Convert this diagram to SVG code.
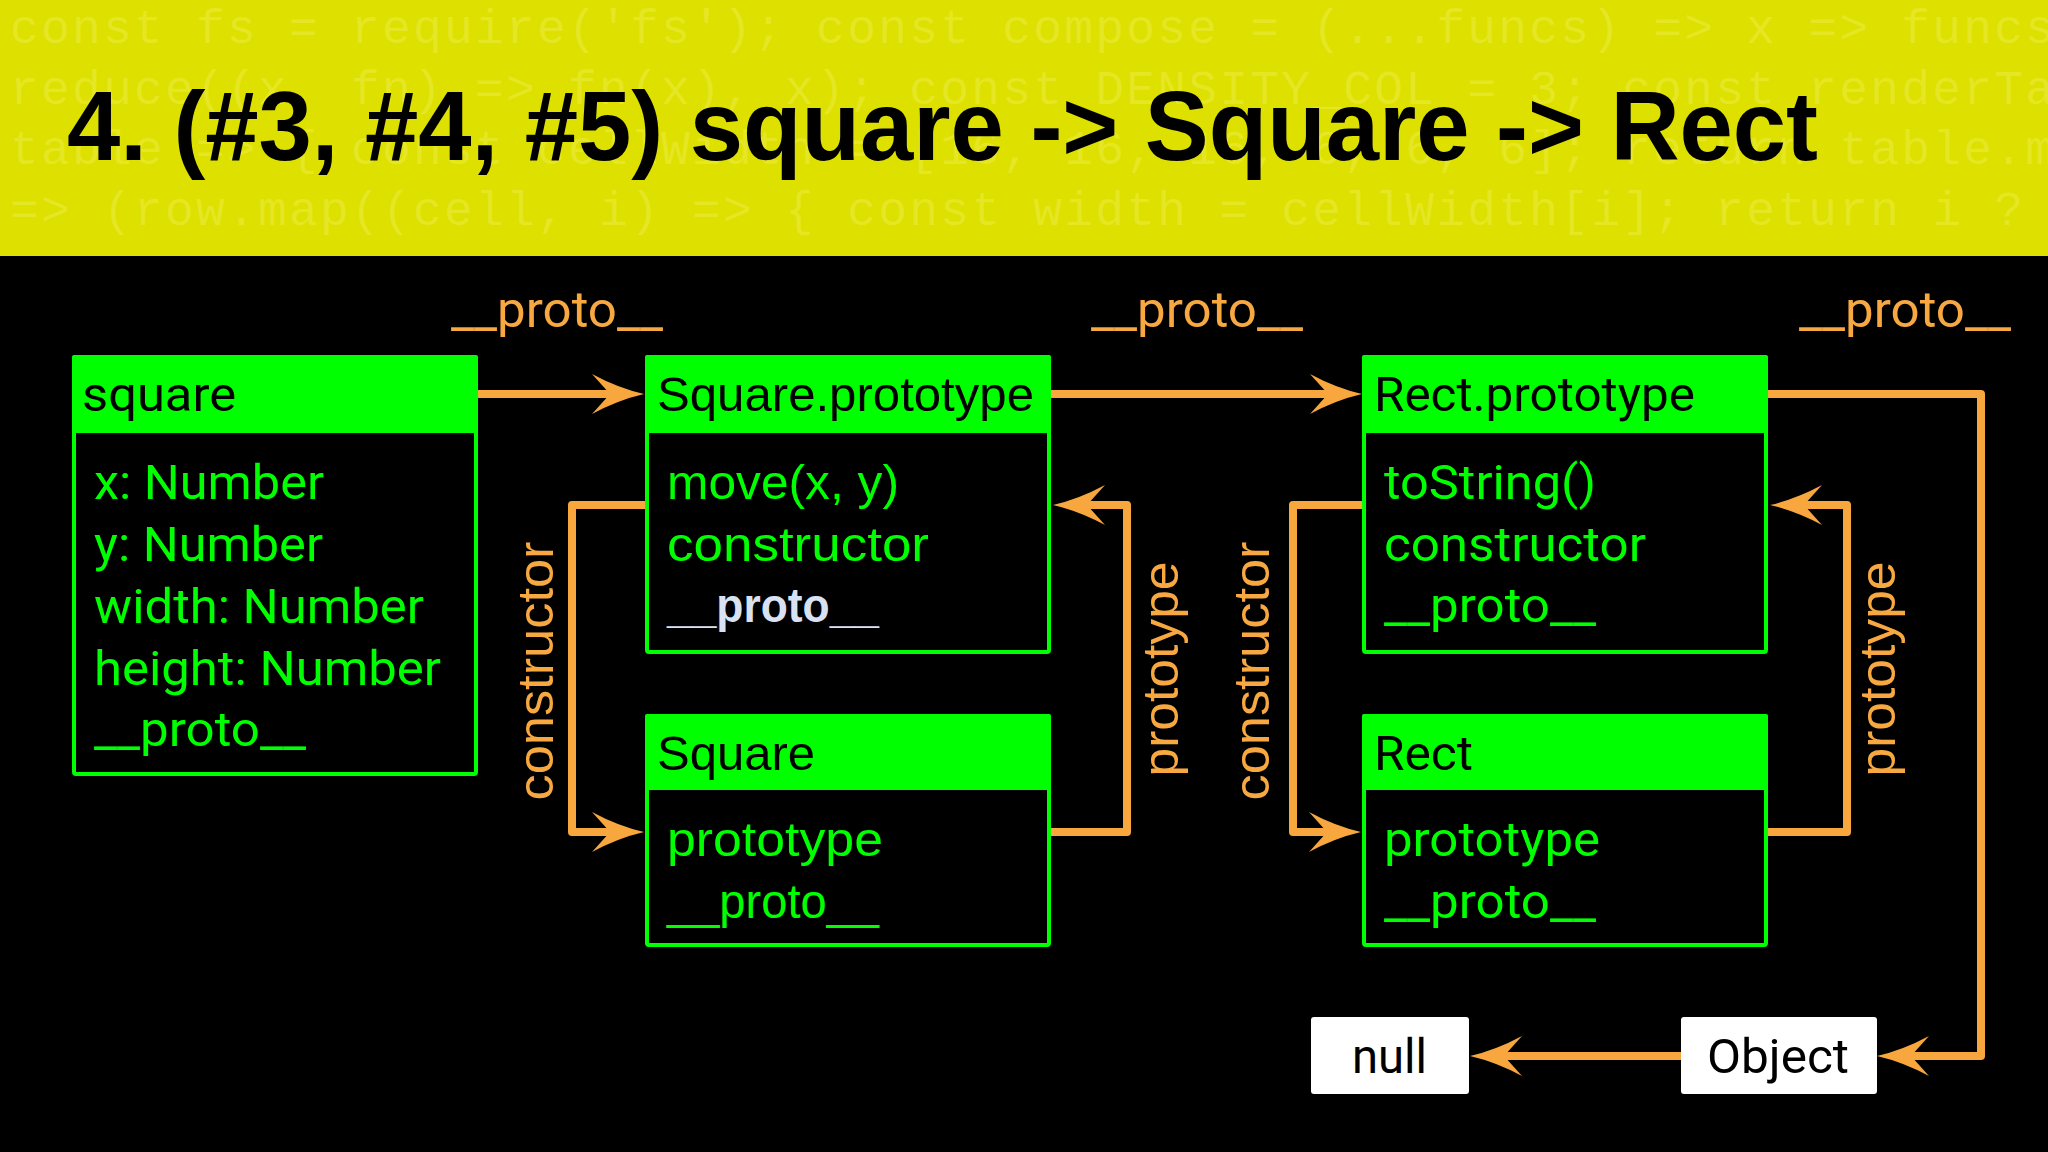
<svg xmlns="http://www.w3.org/2000/svg" width="2048" height="1152" viewBox="0 0 2048 1152">
<defs>
<style>
.code{font-family:"Liberation Mono","DejaVu Sans Mono",monospace;font-size:48px;letter-spacing:2.2px;fill:#e5e624}
.title{font-family:"Liberation Sans",Arial,sans-serif;font-weight:bold;font-size:98px;fill:#000}
.hdr{fill:#00ff00}
.body{fill:#000;stroke:#00ff00;stroke-width:4}
.r{font-family:Roboto,"Liberation Sans",sans-serif;font-size:48px}
.a{font-family:"Liberation Sans",Arial,sans-serif;font-size:48px}
.ht{fill:#000}
.bt{fill:#00ff00}
.lbl{fill:#f7a840;font-size:50px}
.wire{fill:none;stroke:#f8a63e;stroke-width:8;stroke-linejoin:round}
.wbox{fill:#fff}
</style>
<marker id="ah" viewBox="-30 -25 64 50" refX="0" refY="0" markerWidth="64" markerHeight="50" markerUnits="userSpaceOnUse" orient="auto">
<path d="M30,0 Q4,-6 -22,-20 L-4,0 L-22,20 Q4,6 30,0 Z" fill="#f8a63e"/>
</marker>
<clipPath id="hclip"><rect x="0" y="0" width="2048" height="256"/></clipPath>
</defs>
<rect x="0" y="0" width="2048" height="1152" fill="#000"/>
<g id="header">
<rect x="0" y="0" width="2048" height="256" fill="#dee000"/>
<g clip-path="url(#hclip)">
<text class="code" x="10" y="43">const fs = require('fs'); const compose = (...funcs) =&gt; x =&gt; funcs.</text>
<text class="code" x="10" y="104">reduce((x, fn) =&gt; fn(x), x); const DENSITY_COL = 3; const renderTab</text>
<text class="code" x="10" y="164">table =&gt; { const cellWidth = [16, 16, 16, 6, 6, 6]; return table.ma</text>
<text class="code" x="10" y="225">=&gt; (row.map((cell, i) =&gt; { const width = cellWidth[i]; return i ? c</text>
</g>
<text class="title" x="67" y="160" textLength="1751" lengthAdjust="spacingAndGlyphs">4. (#3, #4, #5) square -&gt; Square -&gt; Rect</text>
</g>
<g id="connectors">
<path class="wire" d="M478,394 H614" marker-end="url(#ah)"/>
<path class="wire" d="M1051,394 H1332" marker-end="url(#ah)"/>
<path class="wire" d="M1768,394 H1981 V1056 H1907" marker-end="url(#ah)"/>
<path class="wire" d="M1681,1056 H1500" marker-end="url(#ah)"/>
<path class="wire" d="M645,505 H572 V832 H614" marker-end="url(#ah)"/>
<path class="wire" d="M1051,832 H1127 V505 H1083" marker-end="url(#ah)"/>
<path class="wire" d="M1362,505 H1293 V832 H1331" marker-end="url(#ah)"/>
<path class="wire" d="M1768,832 H1847 V505 H1800" marker-end="url(#ah)"/>
<text class="r lbl" x="451" y="327" textLength="212" lengthAdjust="spacingAndGlyphs">__proto__</text>
<text class="r lbl" x="1091" y="327" textLength="212" lengthAdjust="spacingAndGlyphs">__proto__</text>
<text class="r lbl" x="1799" y="327" textLength="212" lengthAdjust="spacingAndGlyphs">__proto__</text>
<text class="a lbl" transform="translate(553,671) rotate(-90)" text-anchor="middle" textLength="259" lengthAdjust="spacingAndGlyphs">constructor</text>
<text class="a lbl" transform="translate(1178,669) rotate(-90)" text-anchor="middle" textLength="215" lengthAdjust="spacingAndGlyphs">prototype</text>
<text class="a lbl" transform="translate(1269,671) rotate(-90)" text-anchor="middle" textLength="259" lengthAdjust="spacingAndGlyphs">constructor</text>
<text class="a lbl" transform="translate(1895,669) rotate(-90)" text-anchor="middle" textLength="215" lengthAdjust="spacingAndGlyphs">prototype</text>
</g>
<g id="square">
<rect class="body" x="74" y="357" width="402" height="417" rx="2"/>
<rect class="hdr" x="72" y="355" width="406" height="78" rx="2"/>
<text class="r ht" x="82" y="411" textLength="154" lengthAdjust="spacingAndGlyphs">square</text>
<text class="r bt" x="94" y="499" textLength="230" lengthAdjust="spacingAndGlyphs">x: Number</text>
<text class="r bt" x="94" y="561" textLength="229" lengthAdjust="spacingAndGlyphs">y: Number</text>
<text class="r bt" x="94" y="623" textLength="330" lengthAdjust="spacingAndGlyphs">width: Number</text>
<text class="r bt" x="94" y="685" textLength="347" lengthAdjust="spacingAndGlyphs">height: Number</text>
<text class="r bt" x="94" y="746" textLength="212" lengthAdjust="spacingAndGlyphs">__proto__</text>
</g>
<g id="square-prototype">
<rect class="body" x="647" y="357" width="402" height="295" rx="2"/>
<rect class="hdr" x="645" y="355" width="406" height="78" rx="2"/>
<text class="a ht" x="657" y="411" textLength="377" lengthAdjust="spacingAndGlyphs">Square.prototype</text>
<text class="a bt" x="667" y="499" textLength="232" lengthAdjust="spacingAndGlyphs">move(x, y)</text>
<text class="a bt" x="667" y="561" textLength="262" lengthAdjust="spacingAndGlyphs">constructor</text>
<text class="a" x="667" y="622" fill="#d9e2f3" font-weight="bold" textLength="212" lengthAdjust="spacingAndGlyphs">__proto__</text>
</g>
<g id="Square">
<rect class="body" x="647" y="716" width="402" height="229" rx="2"/>
<rect class="hdr" x="645" y="714" width="406" height="76" rx="2"/>
<text class="a ht" x="657" y="770" textLength="158" lengthAdjust="spacingAndGlyphs">Square</text>
<text class="a bt" x="667" y="856" textLength="216" lengthAdjust="spacingAndGlyphs">prototype</text>
<text class="a bt" x="667" y="918" textLength="212" lengthAdjust="spacingAndGlyphs">__proto__</text>
</g>
<g id="rect-prototype">
<rect class="body" x="1364" y="357" width="402" height="295" rx="2"/>
<rect class="hdr" x="1362" y="355" width="406" height="78" rx="2"/>
<text class="r ht" x="1374" y="411" textLength="321" lengthAdjust="spacingAndGlyphs">Rect.prototype</text>
<text class="r bt" x="1384" y="499" textLength="212" lengthAdjust="spacingAndGlyphs">toString()</text>
<text class="r bt" x="1384" y="561" textLength="262" lengthAdjust="spacingAndGlyphs">constructor</text>
<text class="r bt" x="1384" y="622" textLength="212" lengthAdjust="spacingAndGlyphs">__proto__</text>
</g>
<g id="Rect">
<rect class="body" x="1364" y="716" width="402" height="229" rx="2"/>
<rect class="hdr" x="1362" y="714" width="406" height="76" rx="2"/>
<text class="r ht" x="1374" y="770" textLength="99" lengthAdjust="spacingAndGlyphs">Rect</text>
<text class="r bt" x="1384" y="856" textLength="216" lengthAdjust="spacingAndGlyphs">prototype</text>
<text class="r bt" x="1384" y="918" textLength="212" lengthAdjust="spacingAndGlyphs">__proto__</text>
</g>
<g id="null">
<rect class="wbox" x="1311" y="1017" width="158" height="77" rx="3"/>
<text class="r ht" x="1352" y="1073" textLength="75" lengthAdjust="spacingAndGlyphs">null</text>
</g>
<g id="Object">
<rect class="wbox" x="1681" y="1017" width="196" height="77" rx="3"/>
<text class="r ht" x="1707" y="1073" textLength="142" lengthAdjust="spacingAndGlyphs">Object</text>
</g>
</svg>
